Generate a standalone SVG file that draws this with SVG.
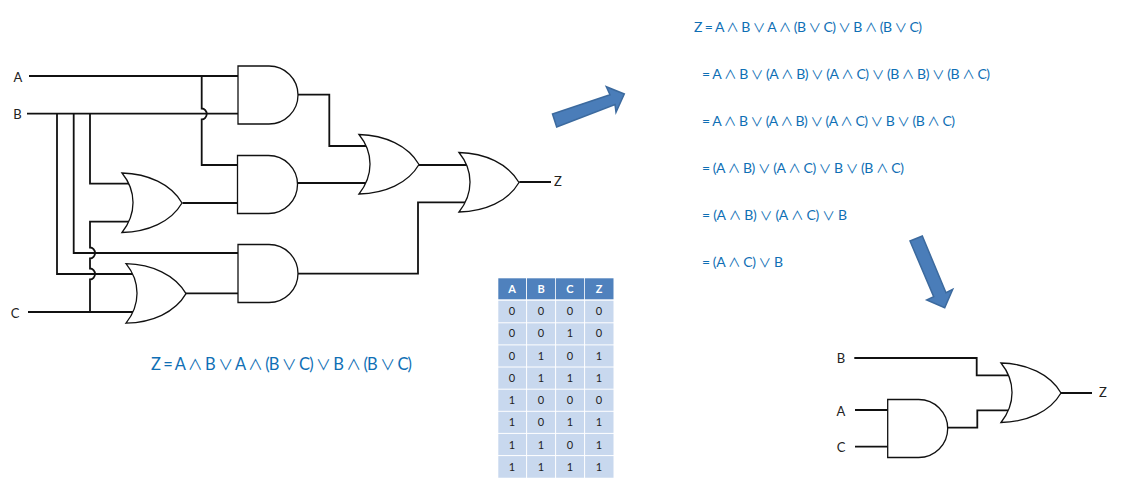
<svg xmlns="http://www.w3.org/2000/svg" width="1122" height="482" viewBox="0 0 1122 482">
<style>
.w{fill:none;stroke:#111;stroke-width:1.8}
.g{fill:#fff;stroke:#111;stroke-width:1.3}
.l{font-family:Lato,"Liberation Sans",sans-serif;font-size:13px;fill:#222;text-anchor:middle}
.f{font-family:Lato,"DejaVu Sans",sans-serif;fill:#0f6fb5;font-size:14px}
.m{font-size:16.5px}
.o{font-family:"Noto Sans CJK SC",sans-serif;font-size:.9em}
.a{fill:#4a7db9;stroke:#3c6a9e;stroke-width:1.5}
.h{fill:#4f81bd}
.t{font-family:Lato,"Liberation Sans",sans-serif;font-size:11px;fill:#222;text-anchor:middle}
.th{fill:#fff;font-weight:bold}
</style>
<defs>
<path id="or" d="M0 0C26 .7 49 11 60 30C49 49 26 58.8 0 59.5C14.7 41 14.7 18 0 0Z"/>
<path id="and" d="M0 0H31A29 29 0 0 1 31 58H0Z"/>
</defs>
<g id="connectors">
<path class="w" d="M29 76H240M27 113.7H240"/>
<path class="w" d="M201.7 76V108.5a5 5.5 0 0 1 0 11V165H240"/>
<path class="w" d="M57 113.7V274H135M73.7 113.7V253H240M90 113.7V183.7H135"/>
<path class="w" d="M28 312H135M90 312V279.5a5 5.5 0 0 0 0-11V258.5a5 5.5 0 0 0 0-11V221.7H135"/>
<path class="w" d="M182.5 203H240M185.7 293.3H240"/>
<path class="w" d="M298 94.7H329.3V146H370M298 183H370M298 273.7H418V202.3H470M418.7 165H470M519.3 182H551"/>
<path class="w" d="M854.3 358H976.7V375.3H1010M855 410H890M855 446.7H890M947.3 427.7H977.3V410.3H1010M1060 393H1092"/>
</g>
<g id="and1"><use href="#and" class="g" x="238" y="66"/></g>
<g id="and2"><use href="#and" class="g" x="237.5" y="155.5"/></g>
<g id="and3"><use href="#and" class="g" x="238" y="244.5"/></g>
<g id="or1"><use href="#or" class="g" x="122" y="173"/></g>
<g id="or2"><use href="#or" class="g" x="126" y="263.7"/></g>
<g id="or3"><use href="#or" class="g" x="359" y="134.5"/></g>
<g id="or4"><use href="#or" class="g" x="459" y="152.5"/></g>
<g id="and4"><use href="#and" class="g" x="887.7" y="399.5"/></g>
<g id="or5"><use href="#or" class="g" x="1001" y="363"/></g>
<g id="labels">
<text class="l" x="18" y="82">A</text>
<text class="l" x="17.5" y="119">B</text>
<text class="l" x="15" y="318">C</text>
<text class="l" x="558" y="186">Z</text>
<text class="l" x="841" y="363">B</text>
<text class="l" x="841" y="416">A</text>
<text class="l" x="841" y="452">C</text>
<text class="l" x="1103" y="397">Z</text>
</g>
<g id="expressions">
<text class="f m" x="151" y="370" textLength="261">Z = A <tspan class="o">∧</tspan> B <tspan class="o">∨</tspan> A <tspan class="o">∧</tspan> (B <tspan class="o">∨</tspan> C) <tspan class="o">∨</tspan> B <tspan class="o">∧</tspan> (B <tspan class="o">∨</tspan> C)</text>
<text class="f" x="694" y="32" textLength="228">Z = A <tspan class="o">∧</tspan> B <tspan class="o">∨</tspan> A <tspan class="o">∧</tspan> (B <tspan class="o">∨</tspan> C) <tspan class="o">∨</tspan> B <tspan class="o">∧</tspan> (B <tspan class="o">∨</tspan> C)</text>
<text class="f" x="702" y="79" textLength="288">= A <tspan class="o">∧</tspan> B <tspan class="o">∨</tspan> (A <tspan class="o">∧</tspan> B) <tspan class="o">∨</tspan> (A <tspan class="o">∧</tspan> C) <tspan class="o">∨</tspan> (B <tspan class="o">∧</tspan> B) <tspan class="o">∨</tspan> (B <tspan class="o">∧</tspan> C)</text>
<text class="f" x="702" y="126" textLength="253">= A <tspan class="o">∧</tspan> B <tspan class="o">∨</tspan> (A <tspan class="o">∧</tspan> B) <tspan class="o">∨</tspan> (A <tspan class="o">∧</tspan> C) <tspan class="o">∨</tspan> B <tspan class="o">∨</tspan> (B <tspan class="o">∧</tspan> C)</text>
<text class="f" x="702" y="173" textLength="202">= (A <tspan class="o">∧</tspan> B) <tspan class="o">∨</tspan> (A <tspan class="o">∧</tspan> C) <tspan class="o">∨</tspan> B <tspan class="o">∨</tspan> (B <tspan class="o">∧</tspan> C)</text>
<text class="f" x="702" y="220" textLength="145">= (A <tspan class="o">∧</tspan> B) <tspan class="o">∨</tspan> (A <tspan class="o">∧</tspan> C) <tspan class="o">∨</tspan> B</text>
<text class="f" x="702" y="267" textLength="81">= (A <tspan class="o">∧</tspan> C) <tspan class="o">∨</tspan> B</text>
</g>
<g id="arrow1"><polygon class="a" points="552.5,114 556.7,127 615,104.5 616,112.3 624.3,94 606.3,86.7 610,94.7"/></g>
<g id="arrow2"><polygon class="a" points="910,241 922.3,236 946,292.7 952.7,289.3 944.7,307.7 926.7,300 933.7,296.7"/></g>
<g id="truth-table">
<rect class="h" x="498.3" y="278.3" width="27.8" height="21"/><rect class="h" x="527" y="278.3" width="28.2" height="21"/><rect class="h" x="556" y="278.3" width="28.2" height="21"/><rect class="h" x="585" y="278.3" width="28.5" height="21"/>
<path fill="#c8d8ee" d="M498.3 300.7H613.5V477.7H498.3Z"/>
<path stroke="#fff" fill="none" d="M526.6 300V478M555.6 300V478M584.6 300V478M498 322.8H614M498 344.9H614M498 367H614M498 389.2H614M498 411.3H614M498 433.4H614M498 455.6H614"/>
<text class="t th" x="512" y="293">A</text><text class="t th" x="541" y="293">B</text><text class="t th" x="570" y="293">C</text><text class="t th" x="599" y="293">Z</text>
<text class="t" x="512" y="315">0</text><text class="t" x="541" y="315">0</text><text class="t" x="570" y="315">0</text><text class="t" x="599" y="315">0</text>
<text class="t" x="512" y="337">0</text><text class="t" x="541" y="337">0</text><text class="t" x="570" y="337">1</text><text class="t" x="599" y="337">0</text>
<text class="t" x="512" y="360">0</text><text class="t" x="541" y="360">1</text><text class="t" x="570" y="360">0</text><text class="t" x="599" y="360">1</text>
<text class="t" x="512" y="382">0</text><text class="t" x="541" y="382">1</text><text class="t" x="570" y="382">1</text><text class="t" x="599" y="382">1</text>
<text class="t" x="512" y="404">1</text><text class="t" x="541" y="404">0</text><text class="t" x="570" y="404">0</text><text class="t" x="599" y="404">0</text>
<text class="t" x="512" y="426">1</text><text class="t" x="541" y="426">0</text><text class="t" x="570" y="426">1</text><text class="t" x="599" y="426">1</text>
<text class="t" x="512" y="449">1</text><text class="t" x="541" y="449">1</text><text class="t" x="570" y="449">0</text><text class="t" x="599" y="449">1</text>
<text class="t" x="512" y="471">1</text><text class="t" x="541" y="471">1</text><text class="t" x="570" y="471">1</text><text class="t" x="599" y="471">1</text>
</g>
</svg>
